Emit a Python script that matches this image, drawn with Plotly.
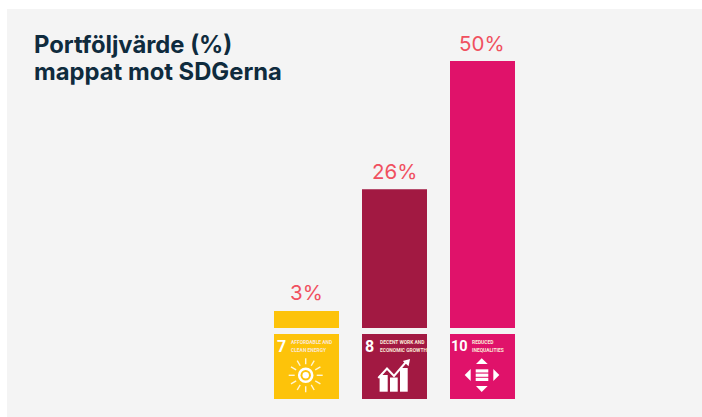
import math
import plotly.graph_objects as go

goals = ["SDG 7", "SDG 8", "SDG 10"]
values = [3.2, 26, 50]
labels = ["3%", "26%", "50%"]
colors = ["#FDC30A", "#A21942", "#E0126A"]
goal_numbers = ["7", "8", "10"]
goal_lines = [
    ["AFFORDABLE AND", "CLEAN ENERGY"],
    ["DECENT WORK AND", "ECONOMIC GROWTH"],
    ["REDUCED", "INEQUALITIES"],
]
title_lines = ["Portföljvärde (%)", "mappat mot SDGerna"]

W, H = 702, 417
L, T = 7, 9
PX_X = 88.0      # px per category step
PX_V = 5.34      # px per percent
X0, Y0 = 306.5, 328.0
BAR = 65.0
GAP = 6.0
xr = [(L - X0) / PX_X, (W - X0) / PX_X]
yr = [(Y0 - H) / PX_V, (Y0 - T) / PX_V]
xs = list(range(len(goals)))


def ix(i, u):
    return i + (u - BAR / 2) / PX_X


def iy(v):
    return -(GAP + v) / PX_V


fig = go.Figure()
fig.add_bar(x=xs, y=values, width=BAR / PX_X, marker=dict(color=colors, line_width=0),
            hoverinfo="skip")
fig.add_bar(x=xs, y=[-BAR / PX_V] * 3, base=[-GAP / PX_V] * 3, width=BAR / PX_X,
            marker=dict(color=colors, line_width=0), hoverinfo="skip")

shapes, ann = [], []
WHITE = "#FFFFFF"


def poly(i, pts, fill=WHITE, line=None, close=True):
    d = "M " + " L ".join(f"{ix(i, u):.5f},{iy(v):.5f}" for u, v in pts) + (" Z" if close else "")
    shapes.append(dict(type="path", path=d, xref="x", yref="y", layer="above",
                       fillcolor=fill if close else "rgba(0,0,0,0)",
                       line=dict(color=line or "rgba(0,0,0,0)", width=2 if line else 0)))


def rect(i, u0, v0, u1, v1, fill=WHITE):
    poly(i, [(u0, v0), (u1, v0), (u1, v1), (u0, v1)], fill)


def circ(i, cu, cv, r, fill=WHITE):
    shapes.append(dict(type="circle", xref="x", yref="y", layer="above",
                       x0=ix(i, cu - r), x1=ix(i, cu + r), y0=iy(cv + r), y1=iy(cv - r),
                       fillcolor=fill, line_width=0))


# Goal 7: sun with power symbol
cu, cv = 31.7, 41.3
circ(0, cu, cv, 7.8)
circ(0, cu, cv, 5.2, colors[0])
circ(0, cu, cv, 3.2)
for k in range(12):
    a = k * math.pi / 6
    poly(0, [(cu + 11 * math.sin(a), cv - 11 * math.cos(a)),
             (cu + 17 * math.sin(a), cv - 17 * math.cos(a))], line="#FFF6D5", close=False)
    shapes[-1]["line"]["width"] = 1.4

# Goal 8: rising bars and arrow
rect(1, 17.6, 41, 25.7, 57.7)
rect(1, 28, 43.5, 35.7, 57.7)
rect(1, 38, 34, 45.7, 57.7)
poly(1, [(16.3, 44), (25, 34.5), (32, 42), (44, 28)], line=WHITE, close=False)
poly(1, [(40.8, 27), (48, 25), (46.6, 32.2)])

# Goal 10: four arrows and equals bars
poly(2, [(31.7, 24.3), (26, 30), (37.7, 30)])
poly(2, [(26, 52), (37.7, 52), (31.7, 58)])
poly(2, [(14.7, 41), (20.7, 35), (20.7, 47)])
poly(2, [(49.3, 41), (43.3, 35), (43.3, 47)])
rect(2, 25.7, 35.3, 38.3, 38.5)
rect(2, 25.7, 39.6, 38.3, 42.8)
rect(2, 25.7, 43.8, 38.3, 47)

NARROW = "Roboto, sans-serif"
for i in xs:
    num = goal_numbers[i]
    ann.append(dict(x=ix(i, 7 if len(num) == 1 else 9.5), y=iy(12.2), xref="x", yref="y", text=f"<b>{num}</b>",
                    showarrow=False, xanchor="center", yanchor="middle",
                    font=dict(family=NARROW, size=16 if len(num) == 1 else 14.5, color="#FFFFFF")))
    for j, line in enumerate(goal_lines[i]):
        ann.append(dict(x=ix(i, 15 if i == 0 else (15.5 if i == 1 else 20)), y=iy(8.3 + j * 7.6), xref="x", yref="y",
                        text=f"<b>{line}</b>", showarrow=False, xanchor="left", yanchor="middle",
                        font=dict(family=NARROW, size=4.9, color="#FBE9D8")))

for i in xs:
    ann.append(dict(x=i, y=values[i], xref="x", yref="y", text=labels[i], showarrow=False,
                    xanchor="center", yanchor="middle", yshift=18, xshift=-0.5,
                    font=dict(family="Inter, sans-serif", size=20.5, color="#F0505F")))

for j, line in enumerate(title_lines):
    ann.append(dict(x=(32 - L) / (W - L), y=1 - (44 + j * 27 - T) / (H - T), xref="paper", yref="paper",
                    text=f"<b>{line}</b>", showarrow=False, xanchor="left", yanchor="middle",
                    font=dict(family="Inter, sans-serif", size=23.8, color="#0F2B3D")))

fig.update_layout(
    width=W, height=H, margin=dict(l=L, r=0, t=T, b=0),
    paper_bgcolor="#FFFFFF", plot_bgcolor="#F4F4F4",
    barmode="overlay", showlegend=False,
    shapes=shapes, annotations=ann,
    xaxis=dict(range=xr, visible=False, fixedrange=True),
    yaxis=dict(range=yr, visible=False, fixedrange=True),
)
fig.write_html("out.html", config={"displayModeBar": False},
               post_script="document.body.style.margin='0';document.documentElement.style.overflow='hidden';")
